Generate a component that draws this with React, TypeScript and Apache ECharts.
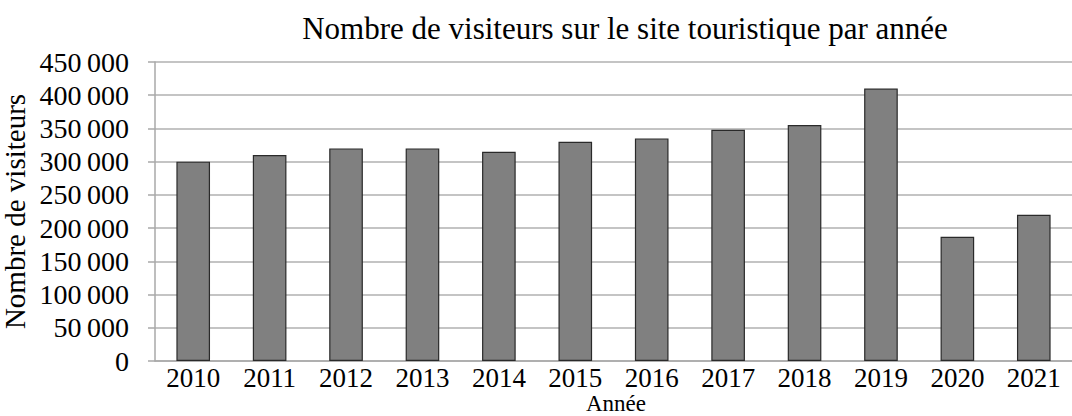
import React, { useEffect, useRef } from "react";
import * as echarts from "echarts";

const years = ["2010", "2011", "2012", "2013", "2014", "2015", "2016", "2017", "2018", "2019", "2020", "2021"];
const visitors = [300000, 310000, 320000, 320000, 315000, 330000, 335000, 348000, 355000, 410000, 187000, 220000];
const yTicks = [0, 50000, 100000, 150000, 200000, 250000, 300000, 350000, 400000, 450000];

const FONT = "'Liberation Serif', 'DejaVu Serif', serif";

function fmt(v: number): string {
  if (v === 0) return "0";
  const s = String(v);
  return s.slice(0, s.length - 3) + "\u2009" + s.slice(s.length - 3);
}

export default function App() {
  const ref = useRef<HTMLDivElement>(null);
  useEffect(() => {
    if (!ref.current) return;
    const chart = echarts.init(ref.current, undefined, { renderer: "svg" });
    chart.setOption({
      animation: false,
      backgroundColor: "#ffffff",
      title: {
        text: "Nombre de visiteurs sur le site touristique par année",
        left: 620,
        textAlign: "center",
        top: 8,
        textStyle: { fontFamily: FONT, fontSize: 31, fontWeight: "normal", color: "#000" },
      },
      graphic: [
        {
          type: "text",
          left: 586,
          top: 392,
          style: {
            text: "Année",
            fontFamily: FONT,
            fontSize: 23,
            fill: "#000",
          },
        },
      ],
      grid: { left: 155, right: 0, top: 62, bottom: 55, containLabel: false, outerBoundsMode: "none" },
      xAxis: {
        type: "category",
        data: years,
        axisLine: { show: true, lineStyle: { color: "#a8a8a8", width: 1.5 } },
        axisTick: { show: false },
        axisLabel: { fontFamily: FONT, fontSize: 27, color: "#000", margin: 3 },
      },
      yAxis: {
        type: "value",
        min: 0,
        max: 450000,
        interval: 50000,
        name: "Nombre de visiteurs",
        nameLocation: "middle",
        nameGap: 126,
        nameMoveOverlap: false,
        nameTextStyle: { fontFamily: FONT, fontSize: 29, color: "#000" },
        axisLine: { show: true, lineStyle: { color: "#a8a8a8", width: 1.5 } },
        axisTick: { show: true, length: 7, lineStyle: { color: "#a8a8a8", width: 1.5 } },
        axisLabel: {
          fontFamily: FONT,
          fontSize: 28,
          color: "#000",
          margin: 26,
          formatter: (v: number) => (yTicks.includes(v) ? fmt(v) : ""),
        },
        splitLine: { show: true, lineStyle: { color: "#b0b0b0", width: 1.5 } },
      },
      series: [
        {
          type: "bar",
          data: visitors,
          barWidth: "44%",
          itemStyle: { color: "#808080", borderColor: "#2a2a2a", borderWidth: 1.2 },
        },
      ],
    });
    return () => chart.dispose();
  }, []);
  return (
    <div
      ref={ref}
      style={{ position: "fixed", left: 0, top: 0, width: 1072, height: 416 }}
    />
  );
}
